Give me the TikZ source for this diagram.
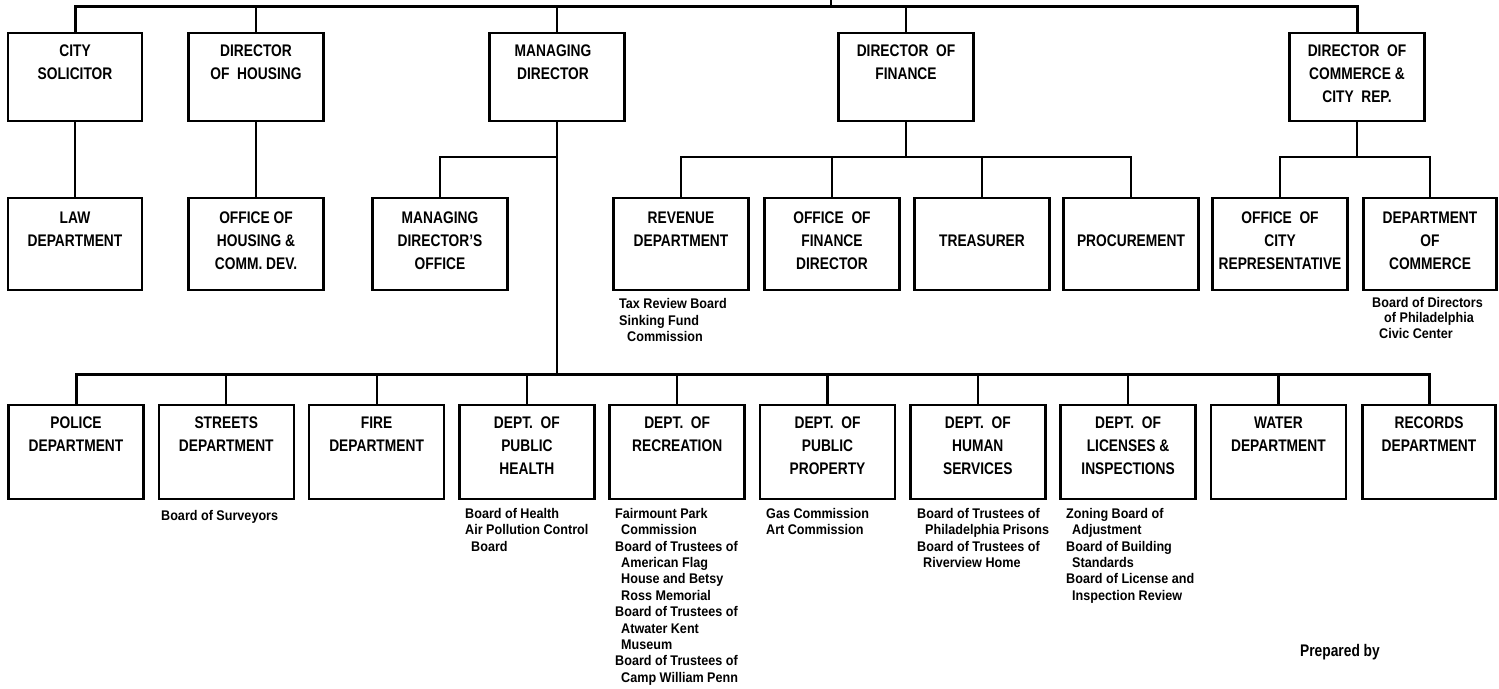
\documentclass[tikz,border=0pt]{standalone}
\usepackage{fontspec}
\setmainfont{Liberation Sans}[FakeStretch=0.82]
\newfontfamily\subfont{Liberation Sans}[FakeStretch=0.9]
\begin{document}
\begin{tikzpicture}[x=1pt,y=-1pt,
  box/.style={draw, line width=2.6pt, rectangle, inner sep=0pt, minimum width=135pt},
  toprow/.style={box, minimum height=88pt},
  midrow/.style={box, minimum height=92pt},
  botrow/.style={box, minimum height=94pt},
  lbl/.style={anchor=north, align=center, inner sep=0pt, font=\bfseries\fontsize{16.8}{23}\selectfont},
  sub/.style={anchor=north west, align=left, inner sep=0pt, font=\subfont\bfseries\fontsize{14}{16.4}\selectfont},
  conn/.style={line width=2.2pt},
  bar/.style={line width=3pt}]
\fill[white] (0,0) rectangle (1499,688);
\useasboundingbox (0,0) rectangle (1499,688);

% ---------- top row ----------
\node[toprow, minimum width=134pt] (cs) at (75,77) {};
\node[toprow] (dh) at (256,77) {};
\node[toprow] (md) at (557,77) {};
\node[toprow] (df) at (906,77) {};
\node[toprow] (dc) at (1357,77) {};
\node[lbl] (cs-t) at (75,45) {CITY\\SOLICITOR};
\node[lbl] (dh-t) at (256,45) {DIRECTOR\\OF\ \ HOUSING};
\node[lbl] (md-t) at (553,45) {MANAGING\\DIRECTOR};
\node[lbl] (df-t) at (906,45) {DIRECTOR\ \ OF\\FINANCE};
\node[lbl] (dc-t) at (1357,45) {DIRECTOR\ \ OF\\COMMERCE \&\\CITY\ \ REP.};

% ---------- second row ----------
\node[midrow, minimum width=134pt] (law) at (75,244) {};
\node[midrow] (ohcd) at (256,244) {};
\node[midrow] (mdo) at (440,244) {};
\node[midrow] (rev) at (681,244) {};
\node[midrow] (ofd) at (832,244) {};
\node[midrow] (tre) at (982,244) {};
\node[midrow] (pro) at (1131,244) {};
\node[midrow] (ocr) at (1280,244) {};
\node[midrow, minimum width=133pt] (doc) at (1430,244) {};
\node[lbl] (law-t) at (75,212) {LAW\\DEPARTMENT};
\node[lbl] (ohcd-t) at (256,212) {OFFICE OF\\HOUSING \&\\COMM. DEV.};
\node[lbl] (mdo-t) at (440,212) {MANAGING\\DIRECTOR'S\\OFFICE};
\node[lbl] (rev-t) at (681,212) {REVENUE\\DEPARTMENT};
\node[lbl] (ofd-t) at (832,212) {OFFICE\ \ OF\\FINANCE\\DIRECTOR};
\node[lbl] (tre-t) at (982,235) {TREASURER};
\node[lbl] (pro-t) at (1131,235) {PROCUREMENT};
\node[lbl] (ocr-t) at (1280,212) {OFFICE\ \ OF\\CITY\\REPRESENTATIVE};
\node[lbl] (doc-t) at (1430,212) {DEPARTMENT\\OF\\COMMERCE};

\node[sub, font=\subfont\bfseries\fontsize{14}{16.8}\selectfont] (rev-s) at (619,298) {Tax Review Board\\Sinking Fund\\\hspace*{8pt}Commission};
\node[sub, font=\subfont\bfseries\fontsize{14}{15.5}\selectfont] (doc-s) at (1372,297) {Board of Directors\\\hspace*{12pt}of Philadelphia\\\hspace*{7pt}Civic Center};

% ---------- bottom row ----------
\node[botrow] (b1) at (76,452) {};
\node[botrow] (b2) at (226.3,452) {};
\node[botrow] (b3) at (376.6,452) {};
\node[botrow] (b4) at (526.9,452) {};
\node[botrow] (b5) at (677.2,452) {};
\node[botrow] (b6) at (827.5,452) {};
\node[botrow] (b7) at (977.8,452) {};
\node[botrow] (b8) at (1128.1,452) {};
\node[botrow] (b9) at (1278.4,452) {};
\node[botrow, minimum width=133pt] (b10) at (1429,452) {};
\node[lbl] (b1-t) at (76,417) {POLICE\\DEPARTMENT};
\node[lbl] (b2-t) at (226.3,417) {STREETS\\DEPARTMENT};
\node[lbl] (b3-t) at (376.6,417) {FIRE\\DEPARTMENT};
\node[lbl] (b4-t) at (526.9,417) {DEPT.\ \ OF\\PUBLIC\\HEALTH};
\node[lbl] (b5-t) at (677.2,417) {DEPT.\ \ OF\\RECREATION};
\node[lbl] (b6-t) at (827.5,417) {DEPT.\ \ OF\\PUBLIC\\PROPERTY};
\node[lbl] (b7-t) at (977.8,417) {DEPT.\ \ OF\\HUMAN\\SERVICES};
\node[lbl] (b8-t) at (1128.1,417) {DEPT.\ \ OF\\LICENSES \&\\INSPECTIONS};
\node[lbl] (b9-t) at (1278.4,417) {WATER\\DEPARTMENT};
\node[lbl] (b10-t) at (1429,417) {RECORDS\\DEPARTMENT};

\node[sub] (b2-s) at (161,510) {Board of Surveyors};
\node[sub] (b4-s) at (465,508) {Board of Health\\Air Pollution Control\\\hspace*{6pt}Board};
\node[sub] (b5-s) at (615,508) {Fairmount Park\\\hspace*{6pt}Commission\\Board of Trustees of\\\hspace*{6pt}American Flag\\\hspace*{6pt}House and Betsy\\\hspace*{6pt}Ross Memorial\\Board of Trustees of\\\hspace*{6pt}Atwater Kent\\\hspace*{6pt}Museum\\Board of Trustees of\\\hspace*{6pt}Camp William Penn};
\node[sub] (b6-s) at (766,508) {Gas Commission\\Art Commission};
\node[sub] (b7-s) at (917,508) {Board of Trustees of\\\hspace*{8pt}Philadelphia Prisons\\Board of Trustees of\\\hspace*{6pt}Riverview Home};
\node[sub] (b8-s) at (1066,508) {Zoning Board of\\\hspace*{6pt}Adjustment\\Board of Building\\\hspace*{6pt}Standards\\Board of License and\\\hspace*{6pt}Inspection Review};

\node[anchor=center, inner sep=0pt, font=\bfseries\fontsize{16.8}{20}\selectfont] (prep) at (1340,652) {Prepared by};

% ---------- connectors ----------
\coordinate (topbar) at (0,6);
\coordinate (brbar) at (0,157);
\coordinate (botbar) at (0,374);
\coordinate (mayor) at (831,0);

\draw[bar] (cs.north) |- (dc.north |- topbar) -- (dc.north);
\draw[conn] (dh.north) -- (dh.north |- topbar);
\draw[conn] (md.north) -- (md.north |- topbar);
\draw[conn] (df.north) -- (df.north |- topbar);
\draw[conn] (mayor) -- (mayor |- topbar);

\draw[conn] (cs.south) -- (law.north);
\draw[conn] (dh.south) -- (ohcd.north);

\draw[conn] (md.south) -- (md.south |- botbar);
\draw[conn] (md.south |- brbar) -| (mdo.north);

\draw[conn] (df.south) -- (df.south |- brbar);
\draw[conn] (rev.north) |- (pro.north |- brbar) -- (pro.north);
\draw[conn] (ofd.north) -- (ofd.north |- brbar);
\draw[conn] (tre.north) -- (tre.north |- brbar);

\draw[conn] (dc.south) -- (dc.south |- brbar);
\draw[conn] (ocr.north) |- (doc.north |- brbar) -- (doc.north);

\draw[bar] (b1.north) |- (b10.north |- botbar) -- (b10.north);
\foreach \n in {b2,b3,b4,b5,b6,b7,b8,b9}{
  \draw[conn] (\n.north) -- (\n.north |- botbar);
}
\end{tikzpicture}
\end{document}
